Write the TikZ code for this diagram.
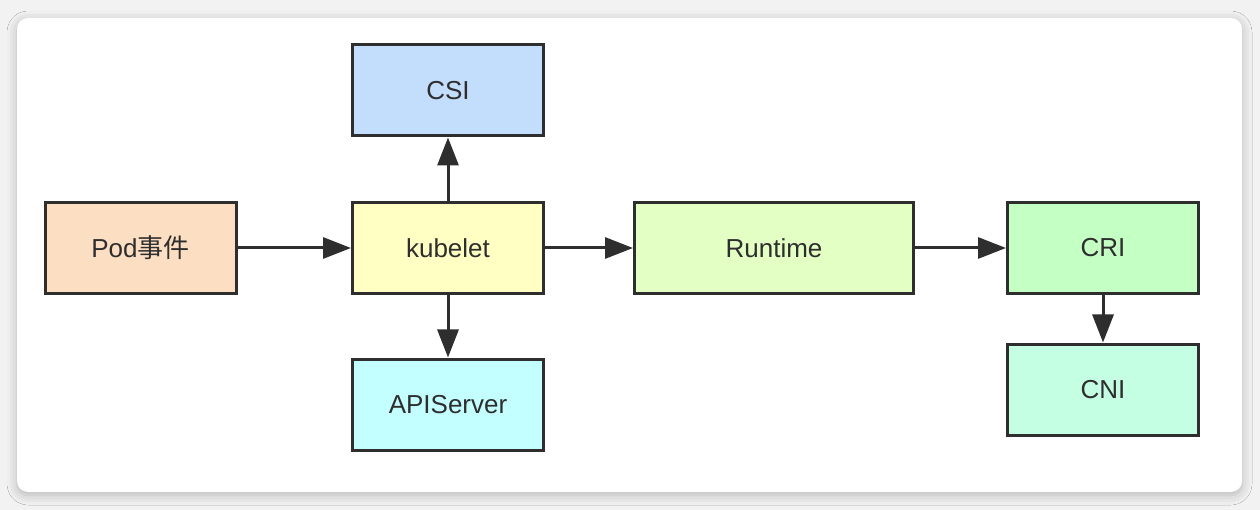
\documentclass[tikz,border=0pt]{standalone}
\usepackage{fontspec}
\setmainfont{Liberation Sans}
\newfontfamily\cjk{Noto Sans CJK SC}
\usepackage{tikz}
\usetikzlibrary{arrows.meta,shadows.blur}
\definecolor{edge}{HTML}{2E2E2E}
\definecolor{podfill}{HTML}{FCDFC3}
\definecolor{kubefill}{HTML}{FFFFC4}
\definecolor{csifill}{HTML}{C3DEFC}
\definecolor{apifill}{HTML}{C4FFFF}
\definecolor{runfill}{HTML}{E4FFC4}
\definecolor{crifill}{HTML}{C4FFC4}
\definecolor{cnifill}{HTML}{C4FFE4}

\begin{document}
\begin{tikzpicture}[x=1pt, y=-1pt,
	box/.style = {draw=edge, line width=3pt, rectangle, minimum width=191pt, minimum height=91pt,
		inner sep=0pt, text=edge, font=\fontsize{26}{31}\selectfont},
	flow/.style = {draw=edge, line width=3pt, -{Triangle[length=28pt,width=21pt]}}]
\fill [black!5] (0 ,0) rectangle (1260 ,510);
\fill [white, rounded corners=11pt, blur shadow={shadow xshift=0pt, shadow yshift=-3pt, shadow blur radius=10pt, shadow opacity=25}] (17 ,18) rectangle (1242 ,492);
\node [box, fill=podfill] (pod) at (140.5 ,248) {Pod{\cjk 事件}};
\node [box, fill=kubefill] (kubelet) at (448 ,248) {kubelet};
\node [box, fill=csifill] (csi) at (448 ,90.5) {CSI};
\node [box, fill=apifill] (apiserver) at (448 ,404.5) {APIServer};
\node [box, fill=runfill, minimum width=279pt] (runtime) at (774 ,248) {Runtime};
\node [box, fill=crifill] (cri) at (1103 ,248) {CRI};
\node [box, fill=cnifill] (cni) at (1103 ,389.5) {CNI};
\draw [flow] (pod) -- (kubelet);
\draw [flow] (kubelet) -- (csi);
\draw [flow] (kubelet) -- (apiserver);
\draw [flow] (kubelet) -- (runtime);
\draw [flow] (runtime) -- (cri);
\draw [flow] (cri) -- (cni);
\end{tikzpicture}
\end{document}
